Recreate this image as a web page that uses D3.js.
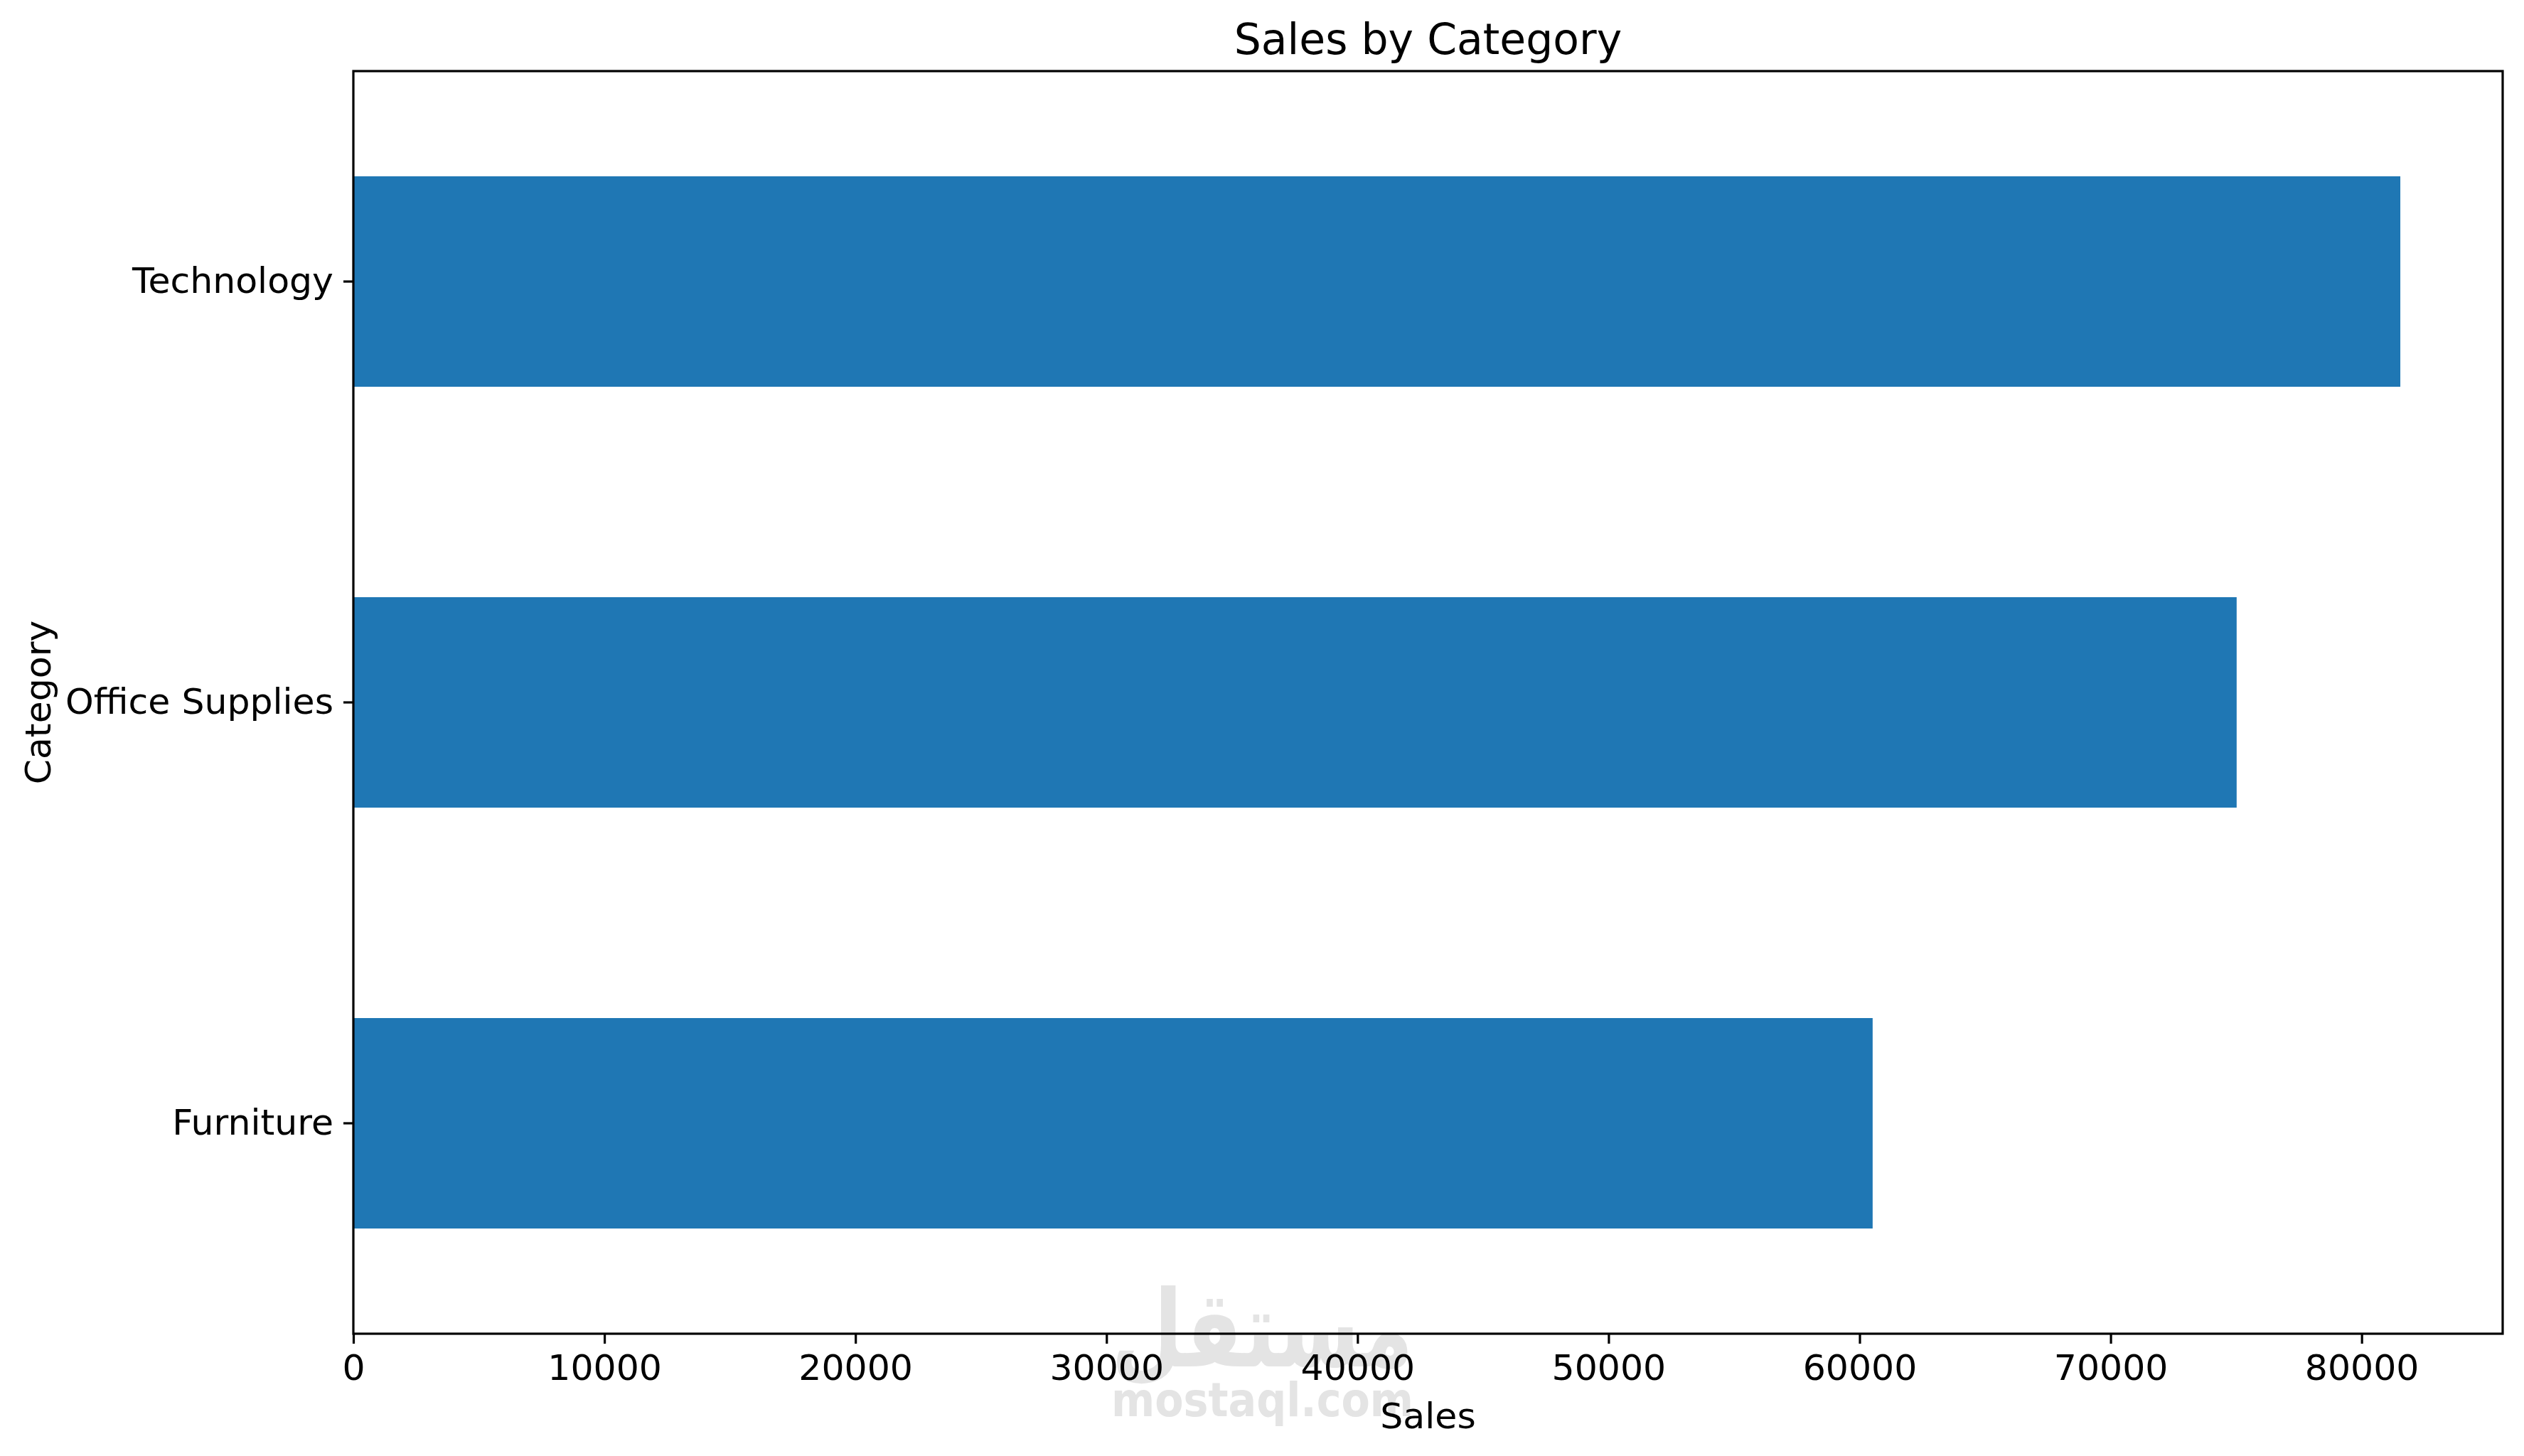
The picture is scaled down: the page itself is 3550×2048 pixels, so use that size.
<!DOCTYPE html>
<html>
<head>
<meta charset="utf-8">
<script src="https://cdn.jsdelivr.net/npm/d3@7"></script>
<style>
  body { margin: 0; background: #fff; }
  text { font-family: "DejaVu Sans", sans-serif; }
</style>
</head>
<body>
<script>
// data
var categories = ["Furniture", "Office Supplies", "Technology"];
var sales = [60520, 75020, 81540];
var xTicks = [0, 10000, 20000, 30000, 40000, 50000, 60000, 70000, 80000];

var width = 3550, height = 2048;
var margin = { top: 100, right: 30, bottom: 172, left: 497 };

var svg = d3.select("body").append("svg")
    .attr("width", width)
    .attr("height", height);

var x = d3.scaleLinear()
    .domain([0, d3.max(sales) * 1.05])
    .range([margin.left, width - margin.right]);

// Technology at the top, like pandas barh
var y = d3.scaleBand()
    .domain(categories.slice().reverse())
    .range([margin.top, height - margin.bottom])
    .paddingInner(0.5)
    .paddingOuter(0.25);

// watermark (behind everything)
var wm = svg.append("g").attr("fill", "#e4e4e4").attr("font-weight", "bold");
wm.append("text")
    .attr("x", 1563).attr("y", 1922)
    .attr("font-size", 150)
    .attr("textLength", 425)
    .attr("lengthAdjust", "spacingAndGlyphs")
    .text("مستقل");
wm.append("text")
    .attr("x", 1563).attr("y", 1992)
    .attr("font-size", 66)
    .attr("textLength", 425)
    .attr("lengthAdjust", "spacingAndGlyphs")
    .text("mostaql.com");

svg.selectAll("rect.bar")
    .data(categories)
  .enter().append("rect")
    .attr("class", "bar")
    .attr("x", x(0))
    .attr("y", function(d) { return y(d); })
    .attr("width", function(d, i) { return x(sales[i]) - x(0); })
    .attr("height", y.bandwidth())
    .attr("fill", "#1f77b4");

var xAxis = svg.append("g")
    .attr("transform", "translate(0," + (height - margin.bottom) + ")")
    .call(d3.axisBottom(x).tickValues(xTicks).tickFormat(d3.format("d"))
      .tickSize(14).tickPadding(15));

var yAxis = svg.append("g")
    .attr("transform", "translate(" + margin.left + ",0)")
    .call(d3.axisLeft(y).tickSize(14).tickPadding(14));

[xAxis, yAxis].forEach(function(g) {
  g.select(".domain").remove();
  g.selectAll(".tick line").attr("stroke", "#000").attr("stroke-width", 3.2);
  g.selectAll(".tick text").attr("font-size", 50.5).attr("fill", "#000")
    .attr("font-family", "DejaVu Sans");
});

// frame
svg.append("rect")
    .attr("x", x.range()[0])
    .attr("y", margin.top)
    .attr("width", x.range()[1] - x.range()[0])
    .attr("height", height - margin.bottom - margin.top)
    .attr("fill", "none")
    .attr("stroke", "#000")
    .attr("stroke-width", 3.2);

svg.append("text")
    .attr("x", (x.range()[0] + x.range()[1]) / 2)
    .attr("y", 76)
    .attr("text-anchor", "middle")
    .attr("font-size", 60)
    .text("Sales by Category");

svg.append("text")
    .attr("x", (x.range()[0] + x.range()[1]) / 2)
    .attr("y", 2009)
    .attr("text-anchor", "middle")
    .attr("font-size", 50.5)
    .text("Sales");

svg.append("text")
    .attr("transform", "translate(71," + (margin.top + (height - margin.bottom - margin.top) / 2) + ") rotate(-90)")
    .attr("text-anchor", "middle")
    .attr("font-size", 50.5)
    .text("Category");
</script>
</body>
</html>
